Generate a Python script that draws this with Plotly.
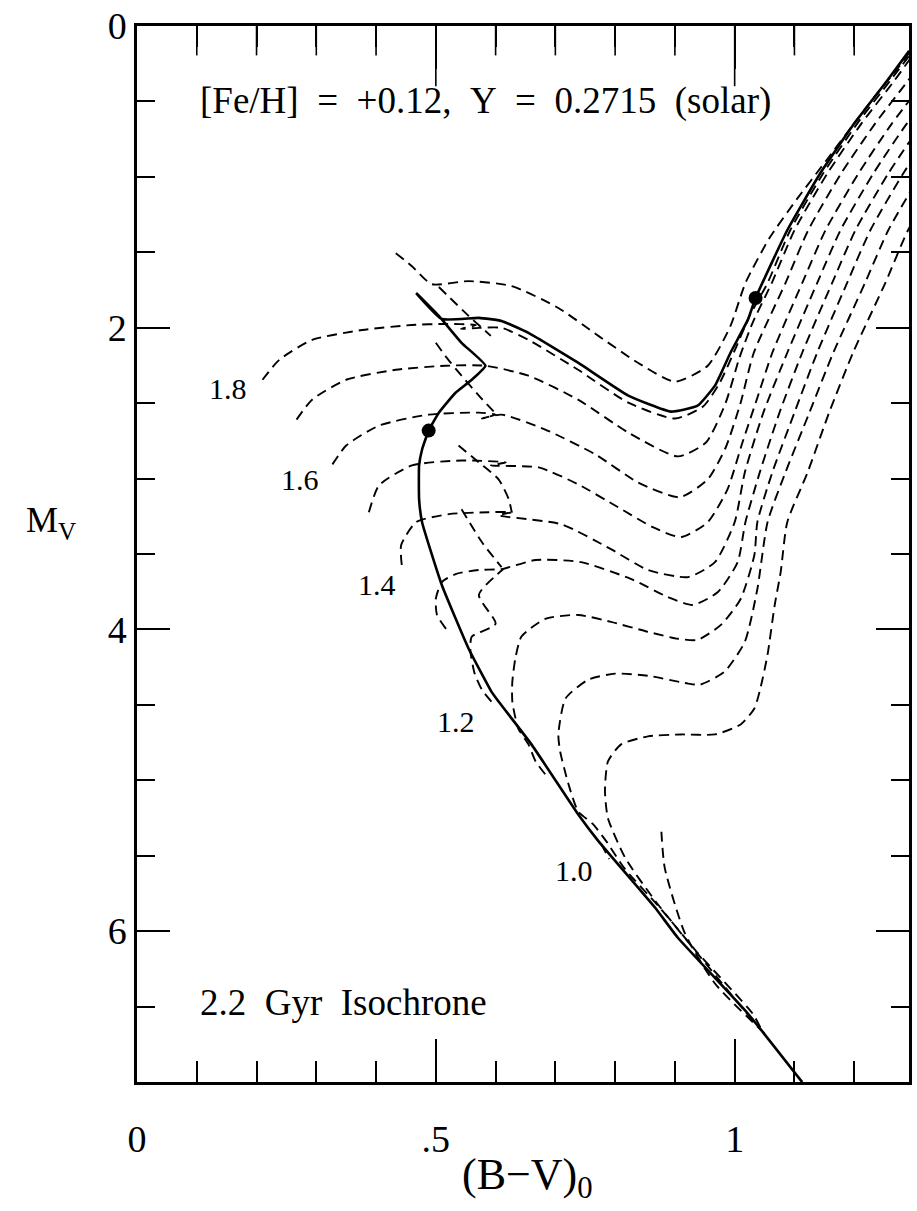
import plotly.graph_objects as go

# ---------------- data ----------------
# 2.2 Gyr isochrone (solid)
iso_bv = [1.113, 1.022, 0.905, 0.867, 0.772, 0.738, 0.660, 0.605, 0.593, 0.555, 0.510, 0.477, 0.472,
          0.472, 0.477, 0.488, 0.505, 0.533, 0.560, 0.583, 0.543, 0.505, 0.467, 0.510, 0.572, 0.610,
          0.655, 0.738, 0.822, 0.893, 0.938, 0.967, 0.993, 1.022, 1.035, 1.088, 1.143, 1.200, 1.255, 1.292]
iso_mv = [7.001, 6.546, 6.044, 5.845, 5.403, 5.225, 4.762, 4.478, 4.412, 4.128, 3.705, 3.289, 3.137,
          2.913, 2.807, 2.682, 2.563, 2.431, 2.345, 2.252, 2.100, 1.922, 1.770, 1.942, 1.935, 1.955,
          2.034, 2.232, 2.450, 2.556, 2.517, 2.384, 2.166, 1.948, 1.803, 1.354, 0.978, 0.647, 0.363, 0.165]

# marked points on the isochrone
dot_bv = [0.488, 1.035]
dot_mv = [2.682, 1.803]

# evolutionary tracks (dashed); None separates pieces of one track
trk19_bv = [0.433, 0.460, 0.493, 0.555, 0.627, 0.705, 0.772, 0.838, 0.900, 0.955, 0.993, 1.018, 1.058,
            1.105, 1.152, 1.197, 1.238, 1.272, 1.297, None, 0.505, 0.555, 0.592]
trk19_mv = [1.506, 1.592, 1.711, 1.691, 1.724, 1.869, 2.054, 2.232, 2.358, 2.252, 1.988, 1.704, 1.407,
            1.143, 0.898, 0.661, 0.449, 0.284, 0.152, None, 1.730, 1.922, 2.054]

trk18_bv = [0.210, 0.238, 0.293, 0.377, 0.460, 0.517, 0.567, 0.542, 0.572, 0.610, 0.655, 0.738, 0.822,
            0.900, 0.947, 0.975, 1.002, 1.025, 1.055, 1.093, 1.148, 1.205, 1.260, 1.297]
trk18_mv = [2.345, 2.213, 2.081, 2.015, 1.982, 1.975, 1.982, 2.008, 2.001, 2.001, 2.081, 2.279, 2.497,
            2.602, 2.523, 2.365, 2.133, 1.922, 1.704, 1.354, 0.978, 0.647, 0.363, 0.172]

trk17_bv = [0.267, 0.293, 0.350, 0.433, 0.517, 0.583, 0.655, 0.738, 0.822, 0.905, 0.952, 0.985, 1.008,
            1.030, 1.062, 1.100, 1.155, 1.212, 1.267, 1.303]
trk17_mv = [2.609, 2.477, 2.345, 2.279, 2.252, 2.252, 2.318, 2.477, 2.695, 2.853, 2.761, 2.497, 2.199,
            1.968, 1.704, 1.354, 0.978, 0.647, 0.363, 0.165]

trk16_bv = [0.327, 0.350, 0.405, 0.488, 0.572, 0.600, 0.577, 0.610, 0.683, 0.767, 0.838, 0.908, 0.955,
            0.985, 1.010, 1.032, 1.085, 1.123, 1.178, 1.235, 1.290, 1.327]
trk16_mv = [2.906, 2.781, 2.649, 2.576, 2.563, 2.576, 2.602, 2.576, 2.675, 2.840, 3.025, 3.124, 3.005,
            2.794, 2.497, 2.166, 1.704, 1.354, 0.978, 0.647, 0.363, 0.165]

trk15_bv = [0.388, 0.405, 0.460, 0.543, 0.617, 0.592, 0.672, 0.738, 0.805, 0.863, 0.910, 0.955, 0.988,
            1.013, 1.038, 1.063, 1.113, 1.152, 1.207, 1.263, 1.318]
trk15_mv = [3.223, 3.045, 2.913, 2.880, 2.893, 2.913, 2.926, 3.038, 3.190, 3.322, 3.388, 3.289, 3.071,
            2.761, 2.464, 2.166, 1.704, 1.354, 0.978, 0.647, 0.363]

trk14_bv = [0.443, 0.442, 0.467, 0.522, 0.588, 0.627, 0.605, 0.710, 0.793, 0.855, 0.922, 0.967, 1.000,
            1.017, 1.048, 1.088, 1.138, 1.177, 1.232, 1.288, 1.343]
trk14_mv = [3.573, 3.441, 3.289, 3.236, 3.223, 3.223, 3.243, 3.303, 3.468, 3.606, 3.653, 3.554, 3.289,
            2.959, 2.563, 2.166, 1.704, 1.354, 0.978, 0.647, 0.363]

trk13_bv = [0.517, 0.502, 0.500, 0.510, 0.533, 0.572, 0.610, 0.667, 0.743, 0.827, 0.888, 0.930, 0.972,
            1.005, 1.018, 1.042, 1.075, 1.113, 1.163, 1.202, 1.257, 1.313]
trk13_mv = [3.996, 3.904, 3.798, 3.686, 3.633, 3.606, 3.600, 3.540, 3.554, 3.666, 3.785, 3.838, 3.752,
            3.554, 3.289, 2.959, 2.563, 2.166, 1.704, 1.354, 0.978, 0.647]

trk12_bv = [0.593, 0.577, 0.565, 0.558, 0.560, 0.600, 0.572, 0.613]
trk12_mv = [4.478, 4.399, 4.293, 4.148, 4.049, 3.963, 3.771, 3.600]

trk11_bv = [0.683, 0.667, 0.655, 0.638, 0.628, 0.628, 0.633, 0.643, 0.683, 0.738, 0.793, 0.855, 0.905,
            0.938, 0.977, 1.010, 1.033, 1.038, 1.063, 1.100, 1.138, 1.188, 1.227, 1.282, 1.338]
trk11_mv = [4.960, 4.875, 4.762, 4.657, 4.478, 4.346, 4.194, 4.049, 3.930, 3.904, 3.950, 4.016, 4.062,
            4.069, 3.970, 3.798, 3.507, 3.289, 2.959, 2.563, 2.166, 1.704, 1.354, 0.978, 0.647]

trk10_bv = [0.777, 0.790]
trk10_mv = [5.423, 5.522]

trk09_bv = [1.043, 1.030, 0.935, 0.875, 0.815, 0.785, 0.763, 0.738, 0.722, 0.708, 0.705, 0.717, 0.755,
            0.800, 0.855, 0.922, 0.942, 0.983, 1.017, 1.038, 1.055, 1.085, 1.125, 1.165, 1.218, 1.257, 1.312]
trk09_mv = [6.638, 6.546, 6.130, 5.845, 5.581, 5.403, 5.291, 5.205, 5.026, 4.808, 4.696, 4.458, 4.333,
            4.293, 4.307, 4.359, 4.366, 4.280, 4.082, 3.732, 3.289, 2.959, 2.563, 2.166, 1.704, 1.354, 0.978]

trk08_bv = [1.030, 0.938, 0.867, 0.817, 0.788, 0.783, 0.788, 0.810, 0.855, 0.910, 0.967, 1.010, 1.033,
            1.043, 1.055, 1.067, 1.077, 1.088, 1.122, 1.158, 1.198, 1.252, 1.290, 1.345]
trk08_mv = [6.592, 6.149, 5.799, 5.515, 5.251, 5.073, 4.875, 4.762, 4.709, 4.696, 4.696, 4.630, 4.524,
            4.392, 4.168, 3.838, 3.620, 3.289, 2.959, 2.563, 2.166, 1.704, 1.354, 0.978]

trk07_bv = [1.050, 0.967, 0.917, 0.883, 0.877]
trk07_mv = [6.678, 6.347, 6.017, 5.581, 5.317]

hook_bv = [0.500, 0.517, 0.543, 0.572, 0.600, None, 0.538, 0.572, 0.605, 0.622, 0.627, None,
           0.543, 0.577, 0.610]
hook_mv = [2.100, 2.193, 2.318, 2.450, 2.569, None, 2.781, 2.893, 3.005, 3.137, 3.223, None,
           3.203, 3.421, 3.587]

mass_labels = ["1.8", "1.6", "1.4", "1.2", "1.0"]
mass_bv = [0.152, 0.272, 0.402, 0.533, 0.732]
mass_mv = [2.404, 3.005, 3.705, 4.610, 5.601]

x_range = [0, 1.2917]
y_range = [7, 0]
x_tickvals = [0, 0.5, 1.0]
x_ticktext = ["0", ".5", "1"]
y_tickvals = [0, 2, 4, 6]
y_ticktext = ["0", "2", "4", "6"]
# tick positions along the top edge (mirrored x ticks)
top_major_ticks = [0.5, 1.0]
top_minor_ticks = [0.1, 0.2, 0.3, 0.4, 0.6, 0.7, 0.8, 0.9, 1.1, 1.2]
top_edge_mv = 0

# ---------------- figure ----------------
FONT = "Liberation Serif"
NB = "\u00a0"
fig = go.Figure()

tracks = [(trk19_bv, trk19_mv), (trk18_bv, trk18_mv), (trk17_bv, trk17_mv), (trk16_bv, trk16_mv),
          (trk15_bv, trk15_mv), (trk14_bv, trk14_mv), (trk13_bv, trk13_mv), (trk12_bv, trk12_mv),
          (trk11_bv, trk11_mv), (trk10_bv, trk10_mv), (trk09_bv, trk09_mv), (trk08_bv, trk08_mv),
          (trk07_bv, trk07_mv), (hook_bv, hook_mv)]
for bx, my in tracks:
    fig.add_trace(go.Scatter(x=bx, y=my, mode="lines", connectgaps=False,
                             line=dict(color="black", width=1.9, dash="10px,6px",
                                       shape="spline", smoothing=0.6),
                             hoverinfo="skip", showlegend=False))

fig.add_trace(go.Scatter(x=iso_bv, y=iso_mv, mode="lines",
                         line=dict(color="black", width=2.6, shape="spline", smoothing=0.4),
                         showlegend=False))
fig.add_trace(go.Scatter(x=dot_bv, y=dot_mv, mode="markers",
                         marker=dict(color="black", size=14), showlegend=False))

# top-edge tick marks (half of each vertical line marker is clipped by the axis)
fig.add_trace(go.Scatter(x=top_minor_ticks, y=[top_edge_mv] * len(top_minor_ticks), mode="markers",
                         cliponaxis=True, hoverinfo="skip", showlegend=False,
                         marker=dict(symbol="line-ns", size=42, color="black",
                                     line=dict(width=1.6, color="black"))))
fig.add_trace(go.Scatter(x=top_major_ticks, y=[top_edge_mv] * len(top_major_ticks), mode="markers",
                         cliponaxis=True, hoverinfo="skip", showlegend=False,
                         marker=dict(symbol="line-ns", size=86, color="black",
                                     line=dict(width=1.6, color="black"))))

for t, bx, my in zip(mass_labels, mass_bv, mass_mv):
    fig.add_annotation(x=bx, y=my, text=t, showarrow=False,
                       font=dict(family=FONT, size=30, color="black"))

fig.add_annotation(x=0.102, y=0.50, xanchor="left", yanchor="middle", showarrow=False,
                   text=f"[Fe/H]{NB*2}={NB*2}+0.12,{NB*2}Y{NB*2}={NB*2}0.2715{NB*2}(solar)",
                   font=dict(family=FONT, size=37, color="black"))
fig.add_annotation(x=0.102, y=6.47, xanchor="left", yanchor="middle", showarrow=False,
                   text=f"2.2{NB*2}Gyr{NB*2}Isochrone",
                   font=dict(family=FONT, size=37, color="black"))
fig.add_annotation(xref="paper", x=-0.147, xanchor="left", y=3.29, showarrow=False,
                   text="M<sub>V</sub>", font=dict(family=FONT, size=36, color="black"))
fig.add_annotation(x=0.653, yref="paper", y=-0.118, showarrow=False,
                   text="(B\u2212V)<sub>0</sub>", font=dict(family=FONT, size=44, color="black"))

axis_common = dict(showline=True, linecolor="black", linewidth=2.5, mirror="ticks",
                   ticks="inside", tickcolor="black", tickwidth=1.6, showgrid=False,
                   zeroline=False, tickfont=dict(family=FONT, size=38, color="black"))
fig.update_layout(
    xaxis=dict(range=x_range, tickmode="array", tickvals=x_tickvals, ticktext=x_ticktext,
               ticklen=43, ticklabelstandoff=22,
               minor=dict(tickmode="linear", tick0=0, dtick=0.1, ticklen=21, tickwidth=1.6,
                          tickcolor="black", ticks="inside", showgrid=False),
               **axis_common),
    yaxis=dict(range=y_range, tickmode="array", tickvals=y_tickvals, ticktext=y_ticktext,
               ticklen=33, ticklabelstandoff=0,
               minor=dict(tickmode="linear", tick0=0, dtick=0.5, ticklen=18, tickwidth=1.6,
                          tickcolor="black", ticks="inside", showgrid=False),
               **axis_common),
    width=917, height=1211, margin=dict(l=137, r=5, t=22, b=129),
    paper_bgcolor="white", plot_bgcolor="white", showlegend=False)

fig.write_html("out.html")
